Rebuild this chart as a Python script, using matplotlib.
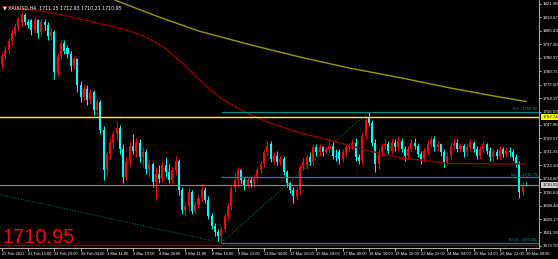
import matplotlib
matplotlib.use("Agg")
from matplotlib import pyplot as plt
from matplotlib import transforms

# XAUUSD H4 candles, bar 0 = 22 Feb 2021
opens = [1785, 1790, 1794, 1799, 1804, 1808, 1810, 1815, 1811, 1812,
         1806, 1812, 1805, 1811, 1809, 1802, 1805, 1780, 1790, 1798,
         1795, 1791, 1784, 1788, 1772, 1765, 1770, 1763, 1768, 1757,
         1762, 1745, 1720, 1730, 1737, 1742, 1746, 1733, 1716, 1725,
         1735, 1732, 1737, 1728, 1731, 1721, 1724, 1713, 1718, 1715,
         1723, 1719, 1714, 1720, 1726, 1708, 1696, 1698, 1707, 1695,
         1699, 1703, 1708, 1702, 1692, 1686, 1682, 1680, 1684, 1692,
         1698, 1709, 1714, 1720, 1714, 1711, 1714, 1712, 1716, 1720,
         1724, 1731, 1736, 1726, 1729, 1725, 1727, 1719, 1712, 1708,
         1704, 1708, 1722, 1723, 1728, 1725, 1734, 1731, 1734, 1731,
         1733, 1735, 1729, 1731, 1727, 1731, 1734, 1735, 1737, 1728,
         1726, 1741, 1752, 1749, 1737, 1724, 1731, 1735, 1736, 1732,
         1737, 1734, 1738, 1733, 1729, 1733, 1737, 1735, 1730, 1727,
         1732, 1736, 1739, 1734, 1736, 1731, 1725, 1729, 1735, 1737,
         1733, 1735, 1731, 1734, 1737, 1733, 1729, 1733, 1736, 1732,
         1728, 1731, 1729, 1733, 1730, 1732, 1731, 1728, 1724, 1707,
         1711.25]
highs = [1792, 1796, 1801, 1806, 1810, 1814, 1817, 1816.5, 1813, 1813,
         1814, 1813, 1813, 1813, 1811, 1807, 1806, 1792, 1800, 1800,
         1797, 1793, 1790, 1789, 1775, 1773, 1772, 1770, 1769, 1764,
         1763, 1747, 1732, 1740, 1745, 1750, 1748, 1736, 1728, 1738,
         1742, 1740, 1739, 1734, 1733, 1727, 1725, 1722, 1723, 1726,
         1728, 1724, 1722, 1729, 1727, 1710, 1700, 1709, 1708, 1701,
         1705, 1712, 1710, 1704, 1694, 1688, 1684, 1686, 1694, 1700,
         1711, 1719, 1722, 1721, 1716, 1716, 1716, 1718, 1722, 1726,
         1733, 1738, 1738, 1731, 1732, 1729, 1729, 1720, 1713, 1710,
         1710, 1724, 1728, 1730, 1731, 1736, 1736, 1736, 1735, 1735,
         1738, 1738, 1733, 1733, 1733, 1736, 1737, 1739, 1740, 1730,
         1743, 1753, 1755.92, 1751, 1739, 1733, 1737, 1739, 1738, 1740,
         1739, 1741, 1740, 1735, 1735, 1739, 1740, 1737, 1732, 1734,
         1738, 1741, 1741, 1738, 1737, 1733, 1731, 1737, 1740, 1739,
         1737, 1736, 1736, 1739, 1738, 1735, 1735, 1738, 1737, 1734,
         1733, 1733, 1735, 1734, 1734, 1734, 1733, 1730, 1726, 1713,
         1712.93]
lows = [1783, 1788, 1792, 1797, 1802, 1806, 1808, 1809, 1807, 1803,
        1804, 1801, 1803, 1806, 1800, 1800, 1776, 1778, 1788, 1791,
        1789, 1781, 1782, 1768, 1762, 1763, 1760, 1761, 1754, 1753,
        1742, 1714, 1717, 1727, 1733, 1738, 1730, 1712, 1714, 1722,
        1730, 1728, 1725, 1722, 1718, 1716, 1710, 1702, 1712, 1713,
        1716, 1712, 1711, 1717, 1705, 1693, 1692, 1695, 1693, 1693,
        1697, 1701, 1700, 1690, 1684, 1680, 1677, 1675.65, 1682, 1690,
        1696, 1707, 1710, 1712, 1708, 1709, 1710, 1710, 1714, 1718,
        1722, 1729, 1725, 1724, 1723, 1723, 1717, 1710, 1706, 1700,
        1702, 1706, 1720, 1721, 1723, 1723, 1729, 1729, 1729, 1730,
        1731, 1727, 1726, 1724, 1725, 1729, 1732, 1733, 1726, 1724,
        1724, 1739, 1747, 1735, 1719, 1721, 1729, 1733, 1730, 1730,
        1732, 1732, 1731, 1726, 1727, 1731, 1733, 1728, 1724, 1725,
        1730, 1734, 1732, 1732, 1729, 1722, 1723, 1727, 1733, 1731,
        1731, 1728, 1729, 1732, 1731, 1727, 1727, 1731, 1730, 1726,
        1726, 1727, 1727, 1728, 1728, 1729, 1726, 1722, 1703, 1704,
        1710.21]
closes = [1790, 1794, 1799, 1804, 1808, 1812, 1815, 1811, 1809, 1806,
          1812, 1804, 1811, 1809, 1802, 1805, 1780, 1790, 1798, 1793,
          1791, 1784, 1788, 1772, 1765, 1770, 1763, 1768, 1757, 1762,
          1745, 1720, 1730, 1737, 1742, 1746, 1733, 1716, 1725, 1735,
          1732, 1737, 1728, 1731, 1721, 1724, 1713, 1718, 1715, 1723,
          1719, 1714, 1720, 1726, 1708, 1696, 1698, 1707, 1695, 1699,
          1703, 1708, 1702, 1692, 1686, 1682, 1680, 1684, 1692, 1698,
          1709, 1714, 1720, 1714, 1711, 1714, 1712, 1716, 1720, 1724,
          1731, 1735, 1727, 1729, 1725, 1727, 1719, 1712, 1708, 1704,
          1708, 1722, 1725, 1728, 1725, 1734, 1731, 1734, 1731, 1733,
          1735, 1729, 1728, 1727, 1731, 1734, 1735, 1737, 1728, 1726,
          1741, 1751, 1749, 1737, 1724, 1731, 1735, 1736, 1732, 1737,
          1734, 1738, 1733, 1729, 1733, 1737, 1735, 1730, 1727, 1732,
          1736, 1739, 1734, 1736, 1731, 1725, 1729, 1735, 1737, 1733,
          1735, 1731, 1734, 1737, 1733, 1729, 1733, 1736, 1732, 1728,
          1731, 1729, 1733, 1730, 1732, 1731, 1728, 1724, 1707, 1711.3,
          1710.95]

# moving averages read at a few bars
ma_red_bars = [0, 12, 20, 33, 38, 42, 46, 50, 55, 60, 64, 67, 72, 77, 81, 91, 103, 112, 122, 137, 152, 160]
ma_red_vals = [1820.5, 1817.6, 1814.5, 1808.4, 1806.0, 1803.3, 1799.5, 1794.5, 1786.0, 1776.0,
               1769.0, 1764.0, 1758.0, 1753.0, 1749.6, 1743.0, 1737.0, 1732.0, 1727.5,
               1724.2, 1724.0, 1724.0]
ma_olive_bars = [24, 36, 48, 60, 76, 91, 106, 122, 137, 152, 160]
ma_olive_vals = [1832.9, 1823.1, 1813.9, 1805.4, 1796.8, 1789.4, 1782.7, 1776.6, 1770.4, 1764.9, 1762.2]

# fibonacci from the low to the high
fib_bars = [67, 112]
fib_prices = [1675.65, 1755.92]
fib_levels = [0.0, 50.0, 100.0]
trend_bars = [-1, 67]
trend_prices = [1705.3, 1675.65]

hline_yellow = 1752.74
bid = 1710.95
low_line = 1674.3

ytick_vals = [1821.90, 1813.67, 1805.43, 1797.20, 1788.97, 1780.73, 1772.50, 1764.27,
              1756.03, 1747.80, 1739.57, 1731.33, 1723.10, 1714.87, 1706.63, 1698.40,
              1690.17, 1681.93, 1673.70]
xtick_labels = ["22 Feb 2021", "23 Feb 15:00", "24 Feb 23:00", "26 Feb 04:00", "1 Mar 11:00",
                "2 Mar 19:00", "4 Mar 00:00", "5 Mar 11:00", "8 Mar 15:00", "9 Mar 23:00",
                "11 Mar 04:00", "12 Mar 15:00", "15 Mar 18:00", "17 Mar 00:00", "18 Mar 10:00",
                "19 Mar 18:00", "22 Mar 22:00", "24 Mar 04:00", "25 Mar 14:00", "26 Mar 22:00",
                "30 Mar 00:00"]
xtick_bars = [i * 8 for i in range(len(xtick_labels))]

plt.rcParams['font.family'] = ['Liberation Sans', 'DejaVu Sans']

fig = plt.figure(figsize=(5.58, 2.59), dpi=100, facecolor='black')
ax = fig.add_axes([0, 11 / 259, 539 / 558, 248 / 259], facecolor='black')

bull = '#ff0000'
bear = '#00ffff'
for i in range(len(opens)):
    col = bull if closes[i] >= opens[i] else bear
    ax.vlines(i, lows[i], highs[i], color=col, lw=0.7)
    body = abs(closes[i] - opens[i])
    ax.bar(i, max(body, 0.3), bottom=min(opens[i], closes[i]), width=0.62,
           color=col, edgecolor=col, lw=0)

ax.plot(ma_red_bars, ma_red_vals, color='#8b0000', lw=1.0)
ax.plot(ma_olive_bars, ma_olive_vals, color='#9a9a00', lw=1.0)

ax.axhline(hline_yellow, color='#ffff00', lw=1.0)
ax.axhline(bid, color='#8a8a8a', lw=0.8)
ax.axhline(low_line, color='#8b0000', lw=1.0)

lo, hi = fib_prices
for lev in fib_levels:
    p = hi - (hi - lo) * lev / 100
    ax.hlines(p, fib_bars[0], 170, color='#008b8b', lw=0.9)
    ax.text(163.3, p + 0.4, f"{lev:.1f} - {p:.2f}", color='#00a0a0', fontsize=3.0,
            ha='right', va='bottom')
ax.plot(fib_bars, fib_prices, color='#00704f', lw=0.8, ls=(0, (1, 1.5)))
ax.plot(trend_bars, trend_prices, color='#00704f', lw=0.8, ls=(0, (1, 1.5)))

ax.set_xlim(-0.61, 163.97)
ax.set_ylim(1672.43, 1824.35)

for s in ['top', 'left']:
    ax.spines[s].set_visible(False)
for s in ['right', 'bottom']:
    ax.spines[s].set_color('#c8c8c8')
    ax.spines[s].set_linewidth(0.6)

ax.yaxis.tick_right()
ax.set_yticks(ytick_vals)
ax.set_yticklabels([f"{v:.2f}" for v in ytick_vals])
ax.tick_params(axis='y', colors='white', labelsize=3.2, length=1.5, width=0.5, pad=1)
ax.set_xticks(xtick_bars)
ax.set_xticklabels(xtick_labels, ha='left')
ax.tick_params(axis='x', colors='white', labelsize=2.9, length=2, width=0.5, pad=0.8)

tr = transforms.blended_transform_factory(ax.transAxes, ax.transData)
ax.text(1.006, hline_yellow, f"{hline_yellow:.2f}", transform=tr, fontsize=3.2, color='black',
        va='center', ha='left', bbox=dict(boxstyle='square,pad=0.25', fc='#ffff00', ec='none'))
ax.text(1.006, bid, f"{bid:.2f}", transform=tr, fontsize=3.2, color='black',
        va='center', ha='left', bbox=dict(boxstyle='square,pad=0.25', fc='#d0d0d0', ec='none'))

fig.text(3 / 558, 1 - 9 / 259, "\u25bc XAUUSD,H4  1711.25 1712.93 1710.21 1710.95",
         color='white', fontsize=3.4, family=['DejaVu Sans'])
fig.text(2 / 558, 1 - 243 / 259, f"{bid:.2f}", color='#ff0000', fontsize=14.5,
         va='baseline', ha='left')

fig.savefig('out.png', dpi=100, facecolor='black')
